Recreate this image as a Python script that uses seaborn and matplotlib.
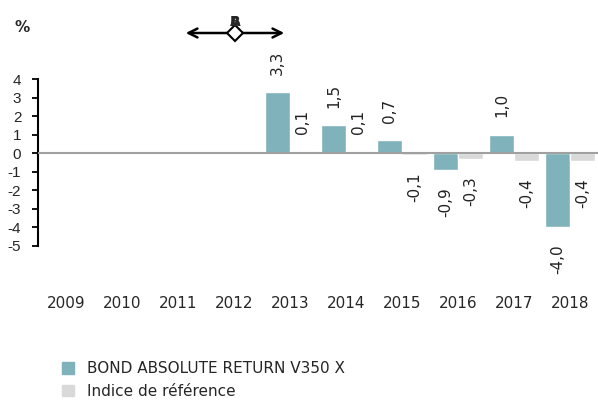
import pandas as pd
import matplotlib.pyplot as plt
import seaborn as sns
import numpy as np

years = ['2009', '2010', '2011', '2012', '2013', '2014', '2015', '2016', '2017', '2018']
fund = [np.nan, np.nan, np.nan, np.nan, 3.3, 1.5, 0.7, -0.9, 1.0, -4.0]
index = [np.nan, np.nan, np.nan, np.nan, 0.1, 0.1, -0.1, -0.3, -0.4, -0.4]
series_names = ['BOND ABSOLUTE RETURN V350 X', 'Indice de référence']
colors = ['#7fb2ba', '#d9d9d9']

df = pd.DataFrame({'annee': years * 2,
                   'valeur': fund + index,
                   'serie': [series_names[0]] * len(years) + [series_names[1]] * len(years)})

sns.set_style('white')
plt.rcParams['font.family'] = ['DejaVu Sans']

fig = plt.figure(figsize=(5.98, 4.03), dpi=100)
ax = fig.add_axes([38 / 598, 1 - 290 / 403, 560 / 598, 220 / 403])

sns.barplot(data=df, x='annee', y='valeur', hue='serie', palette=colors,
            saturation=1, width=0.88, ax=ax, legend=False)

ax.set_xlim(-0.5, 9.5)
ax.set_ylim(-7.4, 4.5)
ax.axhline(0, color='#a0a0a0', lw=1.5, zorder=5)

# étiquettes de valeurs
for cont in ax.containers:
    for rect in cont:
        h = rect.get_height()
        if np.isnan(h):
            continue
        xc = rect.get_x() + rect.get_width() / 2
        off = 0.95 if h >= 0 else -0.95
        ax.text(xc, h + off, f'{h:.1f}'.replace('.', ','), rotation=90,
                ha='center', va='bottom' if h >= 0 else 'top',
                fontsize=11, color='#222222', clip_on=False)

ax.set_xlabel('')
ax.set_ylabel('')
ax.set_yticks(range(-5, 5))
ax.set_yticklabels([str(v) for v in range(-5, 5)], family='Liberation Sans', fontsize=11)
for lab in ax.get_xticklabels():
    lab.set_fontsize(11)
ax.tick_params(axis='x', length=0, pad=4)
ax.tick_params(axis='y', length=4, width=1.3, color='black', direction='out', pad=8, left=True)

for s in ['top', 'right', 'bottom']:
    ax.spines[s].set_visible(False)
ax.spines['left'].set_bounds(-5, 4)
ax.spines['left'].set_color('black')
ax.spines['left'].set_linewidth(1.5)

fig.text(22 / 598, 1 - 27 / 403, '%', fontsize=11, fontweight='bold', ha='center', va='center')

# flèche double en haut
fig.patches.append(plt.matplotlib.patches.FancyArrowPatch(
    (183 / 598, 1 - 33 / 403), (287 / 598, 1 - 33 / 403), transform=fig.transFigure,
    arrowstyle='<->', mutation_scale=16, lw=1.8, color='black'))
fig.lines.append(plt.Line2D([235 / 598], [1 - 33 / 403], marker='D', markersize=8,
                            markerfacecolor='white', markeredgecolor='black',
                            markeredgewidth=1.5, transform=fig.transFigure))
fig.text(235 / 598, 1 - 22 / 403, 'A', fontsize=10, fontweight='bold', ha='center', va='center')
fig.text(235 / 598, 1 - 22 / 403, 'B', fontsize=10, fontweight='bold', ha='center', va='center')

handles = [plt.Rectangle((0, 0), 1, 1, color=c) for c in colors]
fig.legend(handles, series_names, loc='upper left', bbox_to_anchor=(56 / 598, 1 - 355 / 403),
           frameon=False, fontsize=11, handlelength=0.8, handleheight=0.8,
           handletextpad=0.8, labelspacing=0.5, borderaxespad=0)

plt.savefig('out.png', dpi=100)
